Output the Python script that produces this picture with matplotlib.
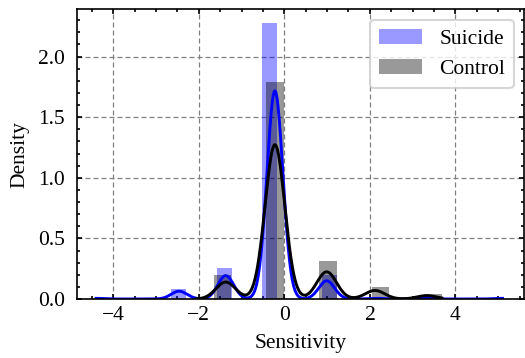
import numpy as np
import matplotlib
matplotlib.use("Agg")
import matplotlib.pyplot as plt
from matplotlib.ticker import MultipleLocator

# =========================================================
# DATA (sensitivity values, grouped as value / count)
# =========================================================

suicide_values = [-4.4, -2.46, -1.37, -0.22, 0.99, 2.15, 3.33, 5.1]
suicide_counts = [1, 12, 36, 321, 28, 1, 1, 1]

control_values = [-1.37, -0.22, 0.99, 2.12, 3.33]
control_counts = [10, 91, 16, 5, 2]

# histogram bins (n bins over a range) and kde bandwidths
suicide_bins = 27
suicide_range = (-4.4, 5.1)
control_bins = 14
control_range = (-2.06, 3.68)
suicide_bw = 0.186
control_bw = 0.23

# =========================================================
# STYLE
# =========================================================

plt.rcParams.update({
    "font.family": ["Liberation Serif", "DejaVu Serif"],
    "font.size": 10.3,
    "axes.linewidth": 0.8,
    "xtick.direction": "in",
    "ytick.direction": "in",
    "xtick.top": True,
    "ytick.right": True,
    "xtick.major.size": 2.6,
    "ytick.major.size": 2.6,
    "xtick.minor.size": 1.4,
    "ytick.minor.size": 1.4,
    "xtick.major.width": 0.8,
    "ytick.major.width": 0.8,
    "xtick.minor.width": 0.8,
    "ytick.minor.width": 0.8,
    "ytick.major.pad": 6.0,
})


def kde(values, counts, bw, grid):
    vals = np.asarray(values, dtype=float)
    w = np.asarray(counts, dtype=float)
    w = w / w.sum()
    z = (grid[:, None] - vals[None, :]) / bw
    return (np.exp(-0.5 * z ** 2) * w).sum(axis=1) / (bw * np.sqrt(2 * np.pi))


fig = plt.figure(figsize=(3.5, 358 / 150), dpi=150)
ax = fig.add_axes([0.1472, 0.1648, 0.8515, 0.8093])

groups = [
    ("Suicide", suicide_values, suicide_counts, suicide_bins, suicide_range, suicide_bw, "blue"),
    ("Control", control_values, control_counts, control_bins, control_range, control_bw, "black"),
]

for label, vals, cnts, nbins, rng, bw, color in groups:
    ax.hist(vals, bins=nbins, range=rng, weights=cnts, density=True,
            color=color, alpha=0.4, linewidth=0, label=label)

for label, vals, cnts, nbins, rng, bw, color in groups:
    grid = np.linspace(rng[0], rng[1], 600)
    ax.plot(grid, kde(vals, cnts, bw, grid), color=color, linewidth=1.4)

ax.set_xlim(-4.84, 5.61)
ax.set_ylim(0, 2.39)
ax.xaxis.set_major_locator(MultipleLocator(2))
ax.xaxis.set_minor_locator(MultipleLocator(0.5))
ax.yaxis.set_major_locator(MultipleLocator(0.5))
ax.yaxis.set_minor_locator(MultipleLocator(0.1))
ax.grid(True, which="major", color="0.5", linestyle=(0, (4, 2.4)), linewidth=0.6)
ax.set_axisbelow(True)

ax.set_xlabel("Sensitivity")
ax.set_ylabel("Density")
ax.legend(loc="upper right")

fig.savefig("out.png", dpi=150)
